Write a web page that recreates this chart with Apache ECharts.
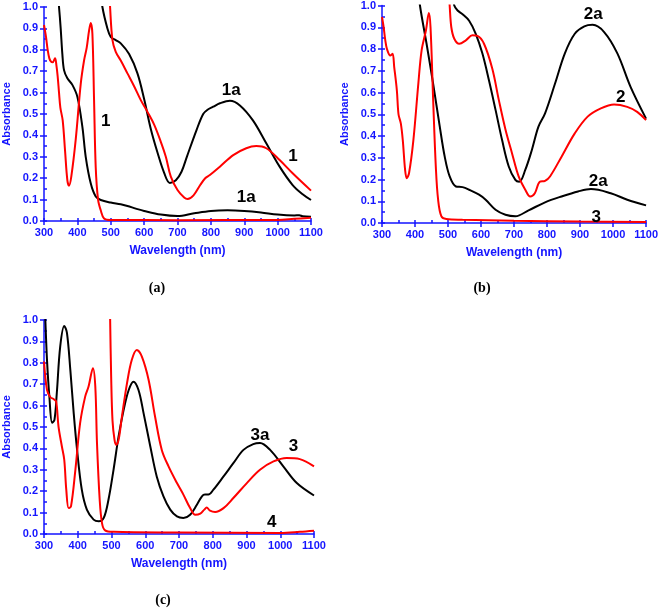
<!DOCTYPE html>
<html><head><meta charset="utf-8">
<script src="https://cdn.jsdelivr.net/npm/echarts@6/dist/echarts.min.js"></script>
<style>html,body{margin:0;padding:0;background:#fff}#c{width:661px;height:610px}</style>
</head><body><div id="c"></div>
<script>
// ---- data (wavelength nm, absorbance) ----
const xTicks = [300,400,500,600,700,800,900,1000,1100];
const yTicks = [0,0.1,0.2,0.3,0.4,0.5,0.6,0.7,0.8,0.9,1.0];

const a_1a_high = [[470,1.08],[475,1.0],[490,0.90],[500,0.86],[515,0.845],[530,0.83],[555,0.78],[580,0.69],[600,0.57],[620,0.43],[640,0.32],[660,0.225],[677,0.178],[695,0.19],[712,0.23],[728,0.30],[757,0.425],[777,0.50],[790,0.52],[807,0.534],[827,0.55],[857,0.562],[887,0.54],[926,0.47],[966,0.363],[1006,0.254],[1045,0.168],[1075,0.125],[1100,0.098]];
const a_1a_low = [[340,1.08],[345,1.0],[350,0.9],[355,0.78],[360,0.705],[370,0.667],[385,0.636],[400,0.58],[415,0.44],[425,0.30],[440,0.176],[455,0.114],[470,0.098],[500,0.086],[530,0.078],[550,0.07],[575,0.058],[600,0.047],[650,0.03],[700,0.023],[750,0.036],[800,0.047],[850,0.05],[900,0.047],[950,0.04],[1000,0.03],[1050,0.026],[1065,0.027],[1075,0.022],[1100,0.02]];
const a_1_low = [[300,0.916],[306,0.86],[311,0.80],[316,0.76],[321,0.745],[326,0.742],[333,0.76],[337,0.73],[341,0.675],[345,0.6],[349,0.53],[356,0.47],[363,0.33],[370,0.19],[375,0.165],[382,0.21],[395,0.38],[410,0.64],[420,0.75],[428,0.81],[435,0.89],[440,0.925],[445,0.875],[450,0.565],[455,0.25],[462,0.1],[470,0.05],[480,0.012],[500,0.005],[700,0.004],[1000,0.005],[1050,0.01],[1100,0.015]];
const a_1_high = [[495,1.1],[498,1.0],[505,0.846],[515,0.79],[530,0.75],[550,0.69],[570,0.63],[590,0.565],[610,0.51],[630,0.45],[650,0.37],[665,0.30],[680,0.207],[700,0.145],[720,0.11],[730,0.103],[748,0.12],[768,0.168],[783,0.2],[797,0.215],[827,0.254],[867,0.308],[906,0.34],[936,0.35],[966,0.34],[1006,0.285],[1045,0.223],[1100,0.142]];

const b_2a_low = [[410,1.08],[415,1.0],[435,0.824],[455,0.64],[475,0.443],[490,0.305],[505,0.214],[524,0.168],[544,0.165],[564,0.153],[594,0.13],[614,0.107],[644,0.061],[674,0.038],[704,0.031],[744,0.058],[794,0.095],[844,0.122],[894,0.145],[933,0.156],[993,0.137],[1043,0.107],[1100,0.081]];
const b_2a_high = [[515,1.05],[519,1.0],[529,0.977],[544,0.96],[564,0.93],[584,0.87],[604,0.78],[624,0.656],[644,0.52],[664,0.38],[684,0.26],[704,0.198],[716,0.19],[734,0.244],[754,0.336],[774,0.443],[794,0.504],[824,0.64],[854,0.78],[884,0.87],[913,0.904],[938,0.911],[973,0.878],[1013,0.78],[1053,0.626],[1100,0.48]];
const b_2_low = [[300,0.947],[305,0.90],[310,0.84],[315,0.80],[325,0.77],[332,0.778],[337,0.717],[345,0.61],[350,0.50],[357,0.458],[363,0.38],[370,0.244],[375,0.206],[382,0.23],[395,0.38],[410,0.64],[420,0.794],[433,0.885],[442,0.965],[447,0.90],[455,0.565],[463,0.26],[470,0.107],[480,0.03],[495,0.018],[544,0.015],[700,0.01],[900,0.007],[1100,0.005]];
const b_2_high = [[503,1.05],[505,1.0],[510,0.90],[519,0.847],[534,0.824],[554,0.84],[574,0.863],[589,0.86],[609,0.824],[634,0.71],[654,0.565],[674,0.43],[694,0.32],[714,0.214],[734,0.153],[749,0.122],[763,0.137],[778,0.19],[794,0.194],[809,0.214],[844,0.305],[884,0.412],[923,0.489],[963,0.527],[1003,0.545],[1043,0.534],[1073,0.511],[1100,0.473]];

const c_3a = [[302,1.1],[304,1.0],[309,0.81],[316,0.64],[324,0.52],[331,0.533],[338,0.66],[348,0.876],[360,0.972],[368,0.94],[378,0.767],[388,0.565],[398,0.393],[412,0.207],[427,0.114],[447,0.067],[462,0.059],[477,0.075],[491,0.16],[506,0.30],[521,0.456],[536,0.58],[551,0.673],[565,0.712],[580,0.673],[595,0.565],[615,0.409],[634,0.269],[654,0.176],[674,0.114],[694,0.082],[713,0.075],[733,0.09],[753,0.137],[768,0.176],[777,0.184],[787,0.184],[802,0.207],[832,0.269],[861,0.331],[891,0.393],[920,0.42],[940,0.425],[970,0.393],[1009,0.316],[1049,0.238],[1100,0.18]];
const c_3_low = [[300,0.806],[309,0.673],[319,0.639],[329,0.63],[336,0.619],[343,0.502],[353,0.409],[360,0.347],[366,0.207],[373,0.121],[380,0.129],[393,0.30],[407,0.518],[422,0.642],[432,0.689],[445,0.775],[452,0.689],[457,0.425],[465,0.16],[472,0.05],[481,0.017],[506,0.01],[700,0.007],[1000,0.005],[1058,0.01],[1100,0.015]];
const c_3_high = [[495,1.1],[496,1.0],[499,0.735],[503,0.53],[509,0.44],[514,0.417],[521,0.44],[531,0.55],[546,0.705],[560,0.813],[575,0.86],[590,0.829],[610,0.72],[629,0.549],[649,0.393],[669,0.316],[694,0.238],[713,0.184],[733,0.121],[748,0.09],[763,0.095],[775,0.114],[782,0.124],[792,0.109],[807,0.103],[832,0.121],[861,0.168],[901,0.238],[940,0.30],[980,0.339],[1019,0.355],[1058,0.35],[1100,0.316]];

const a_labels = [{name:'1a',value:[861,0.612]},{name:'1',value:[485,0.467]},{name:'1',value:[1046,0.30]},{name:'1a',value:[906,0.112]}];
const b_labels = [{name:'2a',value:[940,0.958]},{name:'2',value:[1023,0.579]},{name:'2a',value:[955,0.19]},{name:'3',value:[949,0.026]}];
const c_labels = [{name:'3a',value:[940,0.463]},{name:'3',value:[1039,0.409]},{name:'4',value:[975,0.056]}];

const panelNames = ['(a)','(b)','(c)'];
const xName = 'Wavelength (nm)';
const yName = 'Absorbance';

// ---- layout ----
const BLUE = '#1414ff', RED = '#ff0000', BLACK = '#000000';
const FONT = '"Liberation Sans", Arial, sans-serif';
const grids = [
  {left:43, top:7, width:268, height:214},
  {left:382, top:5, width:267, height:218},
  {left:44, top:320, width:270, height:214}
];

const xAxis = [], yAxis = [], series = [];
grids.forEach((g, i) => {
  xAxis.push({
    gridIndex:i, type:'value', min:300, max:1100, interval:100, position:'bottom',
    name:xName, nameLocation:'middle', nameGap:24,
    nameTextStyle:{color:BLUE, fontWeight:'bold', fontSize:12, fontFamily:FONT},
    axisLine:{show:true, onZero:false, lineStyle:{color:BLUE, width:1.5}},
    axisTick:{show:true, inside:false, length:4, lineStyle:{color:BLUE, width:1.5}},
    axisLabel:{color:BLUE, fontWeight:'bold', fontSize:11, fontFamily:FONT, margin:6,
      formatter: v => xTicks.includes(v) ? String(v) : ''},
    splitLine:{show:false}
  });
  xAxis.push({
    gridIndex:i, type:'value', min:300, max:1100, interval:50, position:'bottom',
    axisLine:{show:false, onZero:false}, axisLabel:{show:false}, splitLine:{show:false},
    axisTick:{show:true, inside:true, length:3, lineStyle:{color:BLUE, width:1.5}}
  });
  yAxis.push({
    gridIndex:i, type:'value', min:0, max:1.0, interval:0.1, position:'left',
    name:yName, nameLocation:'middle', nameGap:32,
    nameTextStyle:{color:BLUE, fontWeight:'bold', fontSize:11, fontFamily:FONT},
    axisLine:{show:true, onZero:false, lineStyle:{color:BLUE, width:1.5}},
    axisTick:{show:true, inside:false, length:4, lineStyle:{color:BLUE, width:1.5}},
    axisLabel:{color:BLUE, fontWeight:'bold', fontSize:11, fontFamily:FONT, margin:6,
      formatter: v => v.toFixed(1)},
    splitLine:{show:false}
  });
  yAxis.push({
    gridIndex:i, type:'value', min:0, max:1.0, interval:0.05, position:'left',
    axisLine:{show:false, onZero:false}, axisLabel:{show:false}, splitLine:{show:false},
    axisTick:{show:true, inside:true, length:3, lineStyle:{color:BLUE, width:1.5}}
  });
});

function line(data, color, gi) {
  return {type:'line', xAxisIndex:gi*2, yAxisIndex:gi*2, data:data, showSymbol:false, symbol:'none',
    smooth:0.35, clip:true, lineStyle:{color:color, width:2}, silent:true, animation:false, z:3};
}
function labels(data, gi) {
  return {type:'scatter', xAxisIndex:gi*2, yAxisIndex:gi*2, data:data, symbolSize:1, silent:true, animation:false,
    itemStyle:{opacity:0},
    label:{show:true, position:'inside', formatter: p => p.name, color:'#000', opacity:1,
      textBorderWidth:0, fontWeight:'bold', fontSize:17, fontFamily:FONT}, z:5};
}
series.push(line(a_1a_high, BLACK, 0), line(a_1a_low, BLACK, 0), line(a_1_low, RED, 0), line(a_1_high, RED, 0), labels(a_labels, 0));
series.push(line(b_2a_low, BLACK, 1), line(b_2a_high, BLACK, 1), line(b_2_low, RED, 1), line(b_2_high, RED, 1), labels(b_labels, 1));
series.push(line(c_3a, BLACK, 2), line(c_3_low, RED, 2), line(c_3_high, RED, 2), labels(c_labels, 2));

const panelPos = [[157,288],[482,288],[163,600]];
const graphic = panelNames.map((t, i) => ({
  type:'text', x:panelPos[i][0], y:panelPos[i][1],
  style:{text:t, fill:'#000', font:'bold 14px "Liberation Serif", "Times New Roman", serif', textAlign:'center', textVerticalAlign:'middle'}
}));

const chart = echarts.init(document.getElementById('c'), null, {renderer:'canvas'});
chart.setOption({animation:false, grid:grids, xAxis:xAxis, yAxis:yAxis, series:series, graphic:graphic});
</script></body></html>
